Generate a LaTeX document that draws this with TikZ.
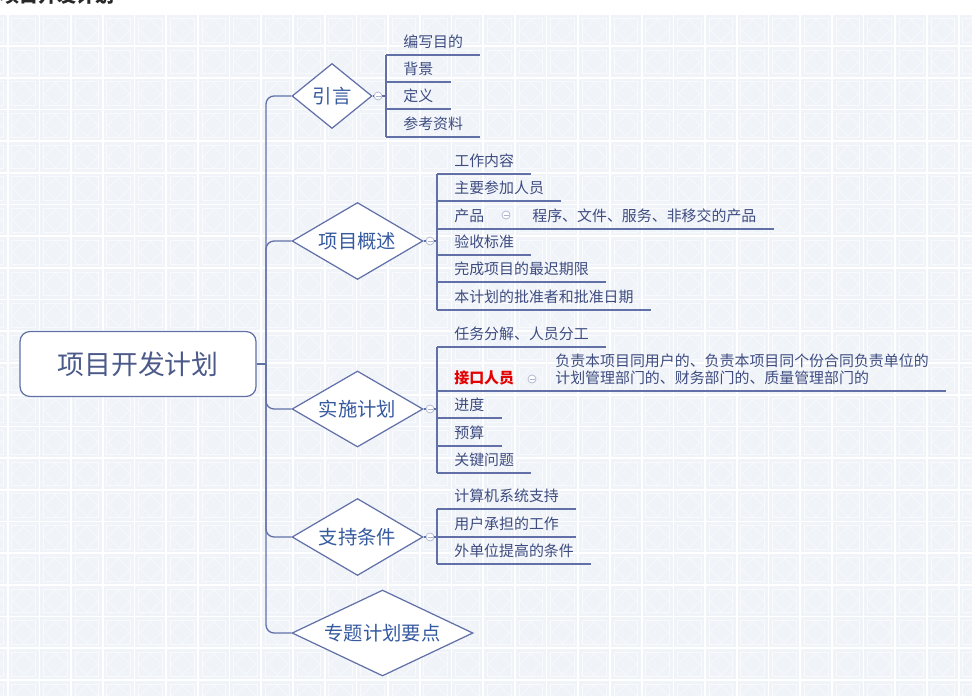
\documentclass[tikz,border=0pt]{standalone}
\usepackage{fontspec}
\setmainfont{Noto Sans CJK SC}
\usetikzlibrary{shapes.geometric}
\definecolor{linkblue}{RGB}{98,112,168}
\definecolor{leaftext}{RGB}{62,76,128}
\definecolor{topicblue}{RGB}{54,90,160}
\definecolor{roottext}{RGB}{76,90,138}
\definecolor{foldgray}{RGB}{172,180,208}
\definecolor{tilebg}{RGB}{240,244,249}
\definecolor{tileline}{RGB}{248,250,253}
\definecolor{titlegray}{RGB}{40,40,40}
\definecolor{alertred}{RGB}{228,0,0}

\begin{document}
\begin{tikzpicture}[x=0.02cm, y=-0.02cm,
    rootbox/.style={rectangle, draw=linkblue, fill=white, rounded corners=0.2cm, line width=0.7pt, minimum width=4.72cm, minimum height=1.3cm, text=roottext, font=\fontsize{15.3}{18}\selectfont},
    topic/.style={diamond, draw=linkblue, fill=white, line width=0.7pt, inner sep=0pt, text=topicblue, font=\fontsize{11}{13}\selectfont},
    leaf/.style={anchor=south west, inner xsep=0.34cm, inner ysep=0.09cm, text height=0.85em, text depth=0.15em, text=leaftext, font=\fontsize{8.5}{9.6}\selectfont},
    fold/.style={circle, draw=foldgray, fill=white, line width=0.4pt, inner sep=0pt, minimum size=0.16cm,
        path picture={\draw[foldgray, line width=0.4pt] ([xshift=-0.05cm]path picture bounding box.center) -- ([xshift=0.05cm]path picture bounding box.center);}},
    spine/.style={draw=linkblue, line width=0.75pt},
    wire/.style={draw=linkblue, line width=0.7pt}
]
\useasboundingbox (0,0) rectangle (972,696);

% tiled background
\fill[white] (0,0) rectangle (972,696);
\fill[tilebg] (0,14) rectangle (972,696);
\foreach \i in {-1,...,30} \foreach \j in {0,...,21} {
    \draw[tileline, line width=0.4pt] ({7.7+31.7*\i+4},{14.3+31.7*\j+4}) rectangle ++(23.7,23.7);
    \draw[tileline, line width=0.4pt] ({7.7+31.7*\i+15.85},{14.3+31.7*\j+5}) -- ++(10.85,10.85) -- ++(-10.85,10.85) -- ++(-10.85,-10.85) -- cycle;
}
\foreach \i in {0,...,30}
    \draw[white, line width=1pt] ({7.7+31.7*\i},14) -- ({7.7+31.7*\i},696);
\foreach \j in {0,...,21}
    \draw[white, line width=1pt] (0,{14.3+31.7*\j}) -- (972,{14.3+31.7*\j});

\node[anchor=base west, inner sep=0pt, text=titlegray, font=\bfseries\fontsize{10.8}{13}\selectfont] (title) at (0,3) {项目开发计划};

% root and main topics
\node[rootbox] (plan) at (138,364) {项目开发计划};
\node[topic, aspect=1.23, minimum width=1.6cm, minimum height=1.3cm] (intro) at (332,96) {引言};
\node[topic, aspect=1.7, minimum width=2.62cm, minimum height=1.54cm] (overview) at (357.5,241) {项目概述};
\node[topic, aspect=1.7, minimum width=2.62cm, minimum height=1.52cm] (impl) at (357.5,409) {实施计划};
\node[topic, aspect=1.7, minimum width=2.62cm, minimum height=1.54cm] (support) at (357.5,537) {支持条件};
\node[topic, aspect=2.1, minimum width=3.62cm, minimum height=1.72cm] (special) at (382.5,633) {专题计划要点};

\coordinate (hub) at (266,364);
\draw[spine] (plan.east) -- (hub);
\foreach \t in {intro,overview,impl,support,special}
    \draw[spine, rounded corners=0.16cm] (hub) |- (\t.west);

% 引言
\node[leaf] (a1) at (386,55) {编写目的};
\node[leaf] (a2) at (386,82) {背景};
\node[leaf] (a3) at (386,109) {定义};
\node[leaf] (a4) at (386,137) {参考资料};
\node[fold] (f1) at (378,96) {};

% 项目概述
\node[leaf] (b1) at (437,174) {工作内容};
\node[leaf] (b2) at (437,201) {主要参加人员};
\node[leaf] (b3) at (437,229) {产品};
\node[leaf] (b3s) at (515,229) {程序、文件、服务、非移交的产品};
\node[leaf] (b4) at (437,255) {验收标准};
\node[leaf] (b5) at (437,282) {完成项目的最迟期限};
\node[leaf] (b6) at (437,310) {本计划的批准者和批准日期};
\node[fold] (f2) at (430,241) {};
\node[fold] (fb3) at (506,215) {};

% 实施计划
\node[leaf] (c1) at (437,347) {任务分解、人员分工};
\node[leaf, text=alertred, font=\bfseries\fontsize{8.5}{9.6}\selectfont] (c2) at (437,391) {接口人员};
\node[leaf, align=left, text height={}] (c2s) at (538,391) {负责本项目同用户的、负责本项目同个份合同负责单位的\\计划管理部门的、财务部门的、质量管理部门的};
\node[leaf] (c3) at (437,418) {进度};
\node[leaf] (c4) at (437,446) {预算};
\node[leaf] (c5) at (437,473) {关键问题};
\node[fold] (f3) at (430,409) {};
\node[fold] (fc2) at (532,379) {};

% 支持条件
\node[leaf] (d1) at (437,509) {计算机系统支持};
\node[leaf] (d2) at (437,537) {用户承担的工作};
\node[leaf] (d3) at (437,564) {外单位提高的条件};
\node[fold] (f4) at (430,537) {};

% underlines
\foreach \n in {a1,a2,a3,a4,b1,b2,b3,b3s,b4,b5,b6,c1,c2,c2s,c3,c4,c5,d1,d2,d3}
    \draw[wire] (\n.south west) -- (\n.south east);
\draw[wire] (b3.south east) -- (b3s.south west);
\draw[wire] (c2.south east) -- (c2s.south west);

% branch lines
\draw[wire] (a1.south west) -- (a4.south west);
\draw[wire] (b1.south west) -- (b6.south west);
\draw[wire] (c1.south west) -- (c5.south west);
\draw[wire] (d1.south west) -- (d3.south west);

\draw[wire] (intro.east) -- (f1.west);
\draw[wire] (f1.east) -- (f1 -| a1.south west);
\draw[wire] (overview.east) -- (f2.west);
\draw[wire] (f2.east) -- (f2 -| b1.south west);
\draw[wire] (impl.east) -- (f3.west);
\draw[wire] (f3.east) -- (f3 -| c1.south west);
\draw[wire] (support.east) -- (f4.west);
\draw[wire] (f4.east) -- (f4 -| d1.south west);
\end{tikzpicture}
\end{document}
